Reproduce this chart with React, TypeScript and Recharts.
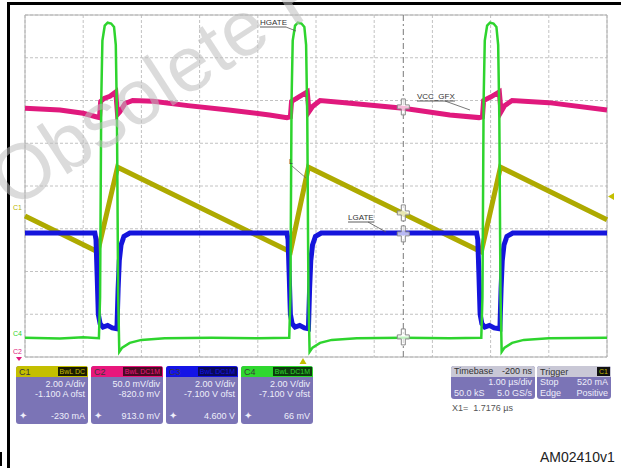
import React from "react";
import { CartesianGrid, ComposedChart, Line, ReferenceLine, Scatter, XAxis, YAxis } from "recharts";

// time in µs from the left edge of the screen (1 µs/div), level in divisions from the bottom
const timeGrid = [0, 1, 2, 3, 4, 5, 6, 7, 8, 9, 10];
const levelGrid = [0, 1, 2, 3, 4, 5, 6, 7, 8];
const cursorTime = 6.5;

const hgate: [number, number][] = [
  [0, 0.45], [0.6, 0.43], [1.0, 0.46], [1.27, 0.44], [1.29, 1.4], [1.31, 6.0], [1.33, 7.4], [1.37, 7.75], [1.42, 7.82],
  [1.48, 7.8], [1.53, 7.72], [1.56, 7.3], [1.58, 5.6], [1.6, 1.5], [1.62, 0.12], [1.67, 0.22], [1.8, 0.33], [2.0, 0.4],
  [2.4, 0.44], [3.2, 0.45], [4.0, 0.44], [4.54, 0.45],
  [4.56, 1.4], [4.58, 6.0], [4.6, 7.4], [4.64, 7.75], [4.69, 7.82], [4.75, 7.8], [4.8, 7.72], [4.83, 7.3], [4.85, 5.6],
  [4.87, 1.5], [4.89, 0.12], [4.94, 0.22], [5.07, 0.33], [5.27, 0.4], [5.7, 0.44], [6.5, 0.45], [7.3, 0.44], [7.84, 0.45],
  [7.86, 1.4], [7.88, 6.0], [7.9, 7.4], [7.94, 7.75], [7.99, 7.82], [8.05, 7.8], [8.1, 7.72], [8.13, 7.3], [8.15, 5.6],
  [8.17, 1.5], [8.19, 0.12], [8.24, 0.22], [8.37, 0.33], [8.57, 0.4], [9.0, 0.44], [10, 0.45]
];

const vccGfx: [number, number][] = [
  [0, 5.82], [0.6, 5.78], [1.0, 5.7], [1.22, 5.62], [1.28, 5.6], [1.3, 5.98], [1.36, 6.05], [1.46, 6.1], [1.56, 6.2],
  [1.59, 5.68], [1.63, 5.74], [1.72, 5.93], [1.85, 6.0], [2.2, 5.98], [2.8, 5.88], [3.5, 5.78], [4.2, 5.66], [4.5, 5.6],
  [4.56, 5.62], [4.58, 5.98], [4.7, 6.08], [4.85, 6.2], [4.88, 5.74], [4.94, 5.86], [5.07, 6.0], [5.5, 5.95], [6.5, 5.82],
  [7.3, 5.66], [7.8, 5.6], [7.86, 5.62], [7.88, 6.0], [8.0, 6.08], [8.15, 6.2], [8.18, 5.74], [8.24, 5.88], [8.37, 6.0],
  [9.0, 5.95], [10, 5.78]
];

const inductor: [number, number][] = [
  [0, 3.3], [1.25, 2.46], [1.59, 4.44], [4.56, 2.46], [4.87, 4.44], [7.84, 2.46], [8.17, 4.44], [10, 3.21]
];

const lgate: [number, number][] = [
  [0, 2.9], [1.2, 2.9], [1.22, 2.75], [1.24, 1.9], [1.26, 1.0], [1.29, 0.78], [1.34, 0.7], [1.42, 0.74], [1.5, 0.68],
  [1.58, 0.66], [1.6, 1.6], [1.62, 2.25], [1.65, 2.62], [1.7, 2.82], [1.8, 2.9],
  [4.5, 2.9], [4.52, 2.75], [4.54, 1.9], [4.56, 1.0], [4.59, 0.78], [4.64, 0.7], [4.72, 0.74], [4.8, 0.68], [4.87, 0.66],
  [4.89, 1.6], [4.91, 2.25], [4.94, 2.62], [4.99, 2.82], [5.09, 2.9],
  [7.76, 2.9], [7.78, 2.75], [7.8, 1.9], [7.82, 1.0], [7.85, 0.78], [7.9, 0.7], [7.98, 0.74], [8.06, 0.68], [8.16, 0.66],
  [8.18, 1.6], [8.2, 2.25], [8.23, 2.62], [8.28, 2.82], [8.38, 2.9], [10, 2.9]
];

const cursorLevels = [5.85, 3.37, 2.88, 0.47];

const channels = [
  { name: "C1", head: "#c4bf00", badge: "#1c1c00", badgeText: "BwL DC", badgeColor: "#c4bf00", scale: "2.00 A/div", offset: "-1.100 A ofst", reading: "-230 mA" },
  { name: "C2", head: "#e8177c", badge: "#4a0a24", badgeText: "BwL DC1M", badgeColor: "#e8177c", scale: "50.0 mV/div", offset: "-820.0 mV", reading: "913.0 mV" },
  { name: "C3", head: "#1414e6", badge: "#0a0a5a", badgeText: "BwL DC1M", badgeColor: "#1414e6", scale: "2.00 V/div", offset: "-7.100 V ofst", reading: "4.600 V" },
  { name: "C4", head: "#2fd82f", badge: "#0d3d0d", badgeText: "BwL DC1M", badgeColor: "#2fd82f", scale: "2.00 V/div", offset: "-7.100 V ofst", reading: "66 mV" }
];

const toPoints = (rows: [number, number][]) => rows.map(([t, v]) => ({ t, v }));

const font = '"Liberation Sans", Arial, sans-serif';
const panel = "#7b74b6";

function CursorCross({ cx, cy }: { cx?: number; cy?: number }) {
  if (cx == null || cy == null) return null;
  const d = `M${cx - 2},${cy - 8} h4 v6 h4 v4 h-4 v6 h-4 v-6 h-4 v-4 h4 z`;
  return <path d={d} fill="#ffffff" fillOpacity={0.7} stroke="#8a8a8a" strokeWidth={1} />;
}

function ChannelBox({ left, ch }: { left: number; ch: (typeof channels)[number] }) {
  return (
    <div style={{ position: "absolute", left, top: 366, width: 72, height: 58, background: panel, borderRadius: 3, overflow: "hidden", color: "#eeeefa", fontSize: 9, fontFamily: font }}>
      <div style={{ height: 11, background: ch.head, display: "flex", justifyContent: "space-between", alignItems: "center", paddingLeft: 3 }}>
        <span style={{ color: "#3a3a3a", fontSize: 9 }}>{ch.name}</span>
        <span style={{ background: ch.badge, color: ch.badgeColor, fontSize: 7, padding: "0 2px", height: 9, lineHeight: "9px", marginRight: 1 }}>{ch.badgeText}</span>
      </div>
      <div style={{ textAlign: "right", paddingRight: 3, lineHeight: "10px", marginTop: 2 }}>{ch.scale}</div>
      <div style={{ textAlign: "right", paddingRight: 3, lineHeight: "10px" }}>{ch.offset}</div>
      <div style={{ position: "absolute", left: 3, bottom: 3, fontSize: 10 }}>✦</div>
      <div style={{ position: "absolute", right: 3, bottom: 3 }}>{ch.reading}</div>
    </div>
  );
}

export default function App() {
  return (
    <div style={{ position: "absolute", left: 0, top: 0, width: 621, height: 468, background: "#fff", overflow: "hidden", fontFamily: font }}>
      <ComposedChart width={621} height={468} margin={{ top: 15, right: 14, bottom: 111, left: 25 }}>
        <XAxis type="number" dataKey="t" domain={[0, 10]} ticks={timeGrid} hide />
        <YAxis type="number" dataKey="v" domain={[0, 8]} ticks={levelGrid} hide />
        <CartesianGrid stroke="#c2c2c2" strokeDasharray="3 2" />
        <ReferenceLine x={0} stroke="#b0b0b0" />
        <ReferenceLine x={10} stroke="#b0b0b0" />
        <ReferenceLine y={0} stroke="#b0b0b0" />
        <ReferenceLine y={8} stroke="#b0b0b0" />
        <ReferenceLine x={cursorTime} stroke="#7a7a7a" strokeDasharray="6 3 2 3" />
        <Line data={toPoints(inductor)} dataKey="v" stroke="#aeaa00" strokeWidth={5} dot={false} isAnimationActive={false} />
        <Line data={toPoints(vccGfx)} dataKey="v" stroke="#e0197d" strokeWidth={5} dot={false} isAnimationActive={false} />
        <Line data={toPoints(lgate)} dataKey="v" stroke="#1515dc" strokeWidth={5} dot={false} isAnimationActive={false} />
        <Line data={toPoints(hgate)} dataKey="v" stroke="#2ed42e" strokeWidth={2.5} dot={false} isAnimationActive={false} />
        <Scatter data={cursorLevels.map((v) => ({ t: cursorTime, v }))} dataKey="v" shape={CursorCross} isAnimationActive={false} />
      </ComposedChart>

      <svg width={621} height={468} style={{ position: "absolute", left: 0, top: 0, pointerEvents: "none" }}>
        {/* trace labels */}
        <g fontFamily={font} fontSize={8} fill="#333">
          <text x={260} y={25}>HGATE</text>
          <line x1={260} y1={27} x2={286} y2={27} stroke="#333" strokeWidth={0.8} />
          <line x1={286} y1={27} x2={296} y2={31} stroke="#555" strokeWidth={0.8} />
          <text x={417} y={99}>VCC_GFX</text>
          <line x1={417} y1={101} x2={455} y2={101} stroke="#333" strokeWidth={0.8} />
          <line x1={445} y1={101} x2={470} y2={110} stroke="#555" strokeWidth={0.8} />
          <text x={348} y={220}>LGATE</text>
          <line x1={348} y1={222} x2={374} y2={222} stroke="#333" strokeWidth={0.8} />
          <line x1={368} y1={222} x2={386} y2={232} stroke="#555" strokeWidth={0.8} />
          <text x={289} y={164} fontSize={7}>L</text>
          <line x1={292} y1={166} x2={306} y2={178} stroke="#666" strokeWidth={0.8} />
        </g>
        {/* channel ground markers */}
        <g fontFamily={font} fontSize={7}>
          <text x={13} y={210} fill="#b8b400">C1</text>
          <text x={13} y={336} fill="#2ed42e">C4</text>
          <text x={13} y={354} fill="#e0197d">C2</text>
          <path d="M16,357 l3,4 l3,-4 z" fill="#e0197d" />
          <path d="M614,193 l-6,3.5 l6,3.5 z" fill="#c4bf00" />
          <path d="M303,358 l-3.5,6 h7 z" fill="#c4bf00" />
        </g>
        {/* frame */}
        <rect x={7} y={2} width={614} height={3} fill="#000" />
        <rect x={7} y={2} width={3} height={466} fill="#000" />
        <rect x={0} y={452} width={2} height={14} fill="#000" />
        {/* watermark */}
        <text x={12} y={210} transform="rotate(-33 12 210)" fontFamily={font} fontSize={78} fill="#bdbdbd" fillOpacity={0.55}>
          Obsolete Product(s)
        </text>
      </svg>

      {channels.map((ch, i) => (
        <ChannelBox key={ch.name} left={16 + i * 75} ch={ch} />
      ))}

      <div style={{ position: "absolute", left: 451, top: 366, width: 84, height: 33, background: panel, borderRadius: 3, overflow: "hidden", color: "#eeeefa", fontSize: 9 }}>
        <div style={{ height: 11, background: "#c9c8d6", color: "#333", display: "flex", justifyContent: "space-between", padding: "0 3px", lineHeight: "11px" }}>
          <span>Timebase</span>
          <span>-200 ns</span>
        </div>
        <div style={{ textAlign: "right", paddingRight: 3, lineHeight: "11px" }}>1.00 µs/div</div>
        <div style={{ display: "flex", justifyContent: "space-between", padding: "0 3px", lineHeight: "11px" }}>
          <span>50.0 kS</span>
          <span>5.0 GS/s</span>
        </div>
      </div>
      <div style={{ position: "absolute", left: 537, top: 366, width: 74, height: 33, background: panel, borderRadius: 3, overflow: "hidden", color: "#eeeefa", fontSize: 9 }}>
        <div style={{ height: 11, background: "#c9c8d6", color: "#333", display: "flex", justifyContent: "space-between", alignItems: "center", padding: "0 1px 0 3px" }}>
          <span>Trigger</span>
          <span style={{ background: "#111", color: "#c4bf00", fontSize: 7, padding: "0 2px", lineHeight: "9px" }}>C1</span>
        </div>
        <div style={{ display: "flex", justifyContent: "space-between", padding: "0 3px", lineHeight: "11px" }}>
          <span>Stop</span>
          <span>520 mA</span>
        </div>
        <div style={{ display: "flex", justifyContent: "space-between", padding: "0 3px", lineHeight: "11px" }}>
          <span>Edge</span>
          <span>Positive</span>
        </div>
      </div>
      <div style={{ position: "absolute", left: 452, top: 403, fontSize: 9, color: "#555" }}>X1= &nbsp;1.7176 µs</div>
      <div style={{ position: "absolute", left: 540, top: 449, fontSize: 14, color: "#222" }}>AM02410v1</div>
    </div>
  );
}
